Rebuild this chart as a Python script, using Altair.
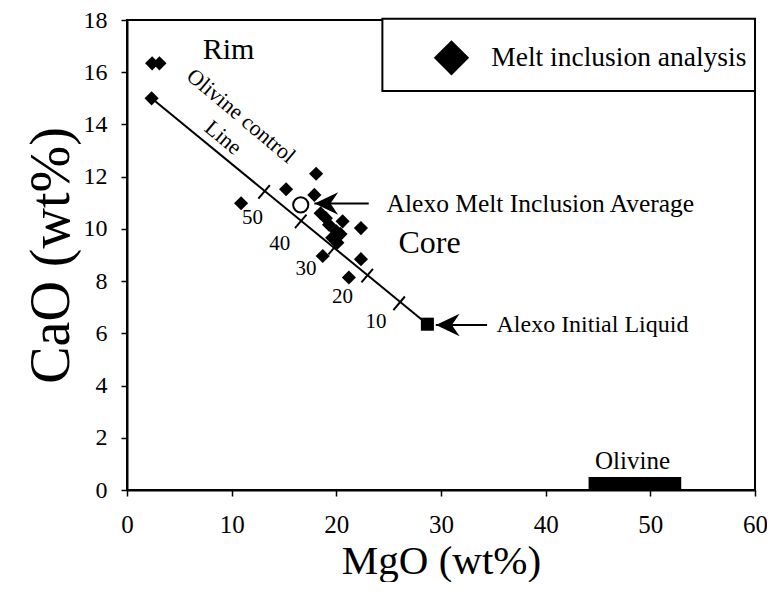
import altair as alt
import pandas as pd

FONT = "Liberation Serif"

# Melt inclusion analyses (MgO, CaO wt%)
mi_mgo = [2.4, 3.1, 2.35, 18.07, 15.2, 10.9, 17.9, 18.5, 19.0, 19.3, 20.6, 20.0, 20.4, 19.6, 20.1, 22.35, 18.7, 22.35, 21.2]
mi_cao = [16.34, 16.34, 15.0, 12.11, 11.52, 10.98, 11.3, 10.6, 10.41, 10.16, 10.29, 9.91, 9.8, 9.66, 9.47, 10.03, 8.96, 8.84, 8.14]

# Alexo melt inclusion average (open circle)
avg_mgo = [16.6]
avg_cao = [10.92]

# Alexo initial liquid (square)
init_mgo = [28.7]
init_cao = [6.35]

# Olivine control line end points
line_mgo = [2.35, 28.7]
line_cao = [15.0, 6.35]

# % olivine tick marks along control line
tick_pct = ["50", "40", "30", "20", "10"]
tick_mgo = [13.1, 16.6, 19.8, 22.95, 26.0]
tick_cao = [11.42, 10.29, 9.28, 8.21, 7.15]
tlab_mgo = [12.0, 14.6, 17.1, 20.6, 23.8]
tlab_cao = [10.4, 9.42, 8.47, 7.38, 6.43]

# olivine compositional range bar
ol_mgo = [44.1, 52.95]
ol_cao = [0.0, 0.5]

# arrows: tip and tail
arr_tip_mgo = [17.9, 29.5]
arr_tail_mgo = [23.1, 34.4]
arr_cao = [10.97, 6.32]

# text annotations
ann_text = ["Alexo Melt Inclusion Average", "Alexo Initial  Liquid"]
ann_mgo = [24.8, 35.3]
ann_cao = [10.97, 6.32]
ann_size = [25.5, 24]

big_text = ["Rim", "Core"]
big_mgo = [9.7, 28.9]
big_cao = [16.87, 9.45]
big_size = [30, 32]

rot_text = ["Olivine control", "Line"]
rot_mgo = [10.9, 9.2]
rot_cao = [14.33, 13.5]

oliv_text = ["Olivine"]
oliv_mgo = [48.3]
oliv_cao = [1.1]

# legend box
leg_mgo = [24.4, 60.0]
leg_cao = [15.28, 18.05]
leg_sym_mgo = [31.0]
leg_txt_mgo = [34.8]
leg_cao_mid = [16.55]

W, H = 628, 470


def X(field="x"):
    return alt.X(field + ":Q", scale=alt.Scale(domain=[0, 60], nice=False),
                 axis=alt.Axis(values=list(range(0, 61, 10)), title="MgO (wt%)",
                               grid=False, tickSize=6, tickColor="black", tickWidth=1.5,
                               domainColor="black", domainWidth=2,
                               labelFont=FONT, labelFontSize=25, labelColor="black",
                               labelPadding=16, labelFlush=False,
                               titleFont=FONT, titleFontSize=41, titleFontWeight="normal",
                               titleColor="black", titleX=W / 2, titleY=71,
                               titleBaseline="middle", titleAlign="center"))


def Y(field="y"):
    return alt.Y(field + ":Q", scale=alt.Scale(domain=[0, 18], nice=False),
                 axis=alt.Axis(values=list(range(0, 19, 2)), title="CaO (wt%)",
                               grid=False, tickSize=6, tickColor="black", tickWidth=1.5,
                               domainColor="black", domainWidth=2,
                               labelFont=FONT, labelFontSize=24, labelColor="black",
                               labelPadding=14, labelFlush=False,
                               titleFont=FONT, titleFontSize=56, titleFontWeight="normal",
                               titleColor="black", titleX=-76, titleY=H / 2,
                               titleAngle=-90, titleBaseline="middle", titleAlign="center"))


mi_df = pd.DataFrame({"x": mi_mgo, "y": mi_cao})
line_df = pd.DataFrame({"x": line_mgo, "y": line_cao})

# perpendicular tick crosses (half-length in data units along screen-normal)
dmx, dcy = 0.55, 0.26
tick_df = pd.DataFrame({
    "x": [m - dmx for m in tick_mgo], "y": [c - dcy for c in tick_cao],
    "x2": [m + dmx for m in tick_mgo], "y2": [c + dcy for c in tick_cao],
})
tlab_df = pd.DataFrame({"x": tlab_mgo, "y": tlab_cao, "t": tick_pct})

line = alt.Chart(line_df).mark_line(color="black", strokeWidth=2).encode(x=X(), y=Y())
ticks = alt.Chart(tick_df).mark_rule(color="black", strokeWidth=2).encode(
    x=X(), y=Y(), x2="x2", y2="y2")
tlabs = alt.Chart(tlab_df).mark_text(font=FONT, fontSize=21, color="black").encode(
    x=X(), y=Y(), text="t:N")

diamonds = alt.Chart(mi_df).mark_point(shape="diamond", filled=True, color="black",
                                       size=200, opacity=1).encode(x=X(), y=Y())
avg = alt.Chart(pd.DataFrame({"x": avg_mgo, "y": avg_cao})).mark_point(
    shape="circle", filled=True, fill="white", stroke="black", strokeWidth=2,
    size=230, opacity=1).encode(x=X(), y=Y())
init = alt.Chart(pd.DataFrame({"x": init_mgo, "y": init_cao})).mark_point(
    shape="square", filled=True, color="black", size=170, opacity=1).encode(x=X(), y=Y())

arr_df = pd.DataFrame({"x": arr_tip_mgo, "x2": arr_tail_mgo, "y": arr_cao})
arr_lines = alt.Chart(arr_df).mark_rule(color="black", strokeWidth=2).encode(
    x=X(), x2="x2", y=Y())
ARROW = "M -1 0 L 1 -0.95 L 0.35 0 L 1 0.95 Z"
arr_heads = alt.Chart(arr_df).mark_point(shape=ARROW, filled=True, color="black",
                                         size=560, opacity=1, xOffset=12).encode(x=X(), y=Y())

ann = alt.Chart(pd.DataFrame({"x": ann_mgo, "y": ann_cao, "t": ann_text, "s": ann_size})).mark_text(
    font=FONT, color="black", align="left", baseline="middle").encode(
    x=X(), y=Y(), text="t:N", size=alt.Size("s:Q", scale=None, legend=None))
big = alt.Chart(pd.DataFrame({"x": big_mgo, "y": big_cao, "t": big_text, "s": big_size})).mark_text(
    font=FONT, color="black", align="center", baseline="middle").encode(
    x=X(), y=Y(), text="t:N", size=alt.Size("s:Q", scale=None, legend=None))
rot = alt.Chart(pd.DataFrame({"x": rot_mgo, "y": rot_cao, "t": rot_text})).mark_text(
    font=FONT, fontSize=22, color="black", align="center", baseline="middle", angle=40).encode(
    x=X(), y=Y(), text="t:N")

ol_bar = alt.Chart(pd.DataFrame({"x": [ol_mgo[0]], "x2": [ol_mgo[1]],
                                 "y": [ol_cao[0]], "y2": [ol_cao[1]]})).mark_rect(
    color="black").encode(x=X(), x2="x2", y=Y(), y2="y2")
ol_txt = alt.Chart(pd.DataFrame({"x": oliv_mgo, "y": oliv_cao, "t": oliv_text})).mark_text(
    font=FONT, fontSize=25, color="black", align="center", baseline="middle").encode(
    x=X(), y=Y(), text="t:N")

leg_box = alt.Chart(pd.DataFrame({"x": [leg_mgo[0]], "x2": [leg_mgo[1]],
                                  "y": [leg_cao[0]], "y2": [leg_cao[1]]})).mark_rect(
    fill="white", stroke="black", strokeWidth=2).encode(x=X(), x2="x2", y=Y(), y2="y2")
leg_sym = alt.Chart(pd.DataFrame({"x": leg_sym_mgo, "y": leg_cao_mid})).mark_point(
    shape="diamond", filled=True, color="black", size=1250, opacity=1).encode(x=X(), y=Y())
leg_txt = alt.Chart(pd.DataFrame({"x": leg_txt_mgo, "y": leg_cao_mid,
                                  "t": ["Melt inclusion analysis"]})).mark_text(
    font=FONT, fontSize=27.5, color="black", align="left", baseline="middle").encode(
    x=X(), y=Y(), text="t:N")

chart = alt.layer(
    line, ticks, tlabs, diamonds, avg, init, arr_lines, arr_heads,
    ann, big, rot, ol_bar, ol_txt, leg_box, leg_sym, leg_txt
).properties(
    width=W, height=H,
    autosize=alt.AutoSizeParams(type="none"),
    padding={"left": 119, "top": 12, "right": 12, "bottom": 92},
    background="white",
).configure_view(stroke="black", strokeWidth=2)

chart.save("out.html", embed_options={"renderer": "svg", "actions": False})
